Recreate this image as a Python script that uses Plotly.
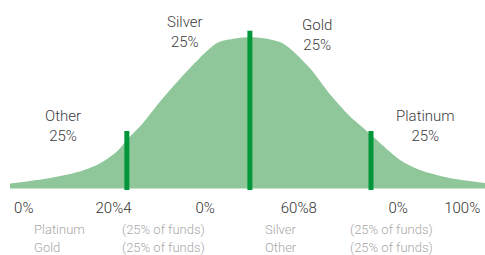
import plotly.graph_objects as go

# ---- data ----
curve_x = [0, 4.2, 8.4, 14.7, 18.9, 22.5, 24.6, 28.0, 31.6, 37.5, 43.6, 47.4, 50.5,
           53.7, 57.5, 63.2, 67.4, 71.6, 75.6, 77.9, 82.1, 86.3, 92.6, 100]
curve_y = [5, 7.5, 10.5, 17, 25, 37, 48.5, 65.5, 87, 118.5, 145.5, 150, 151.5,
           150, 145, 120, 94, 72, 55.5, 45.5, 28.5, 18.5, 10.5, 5.5]

divider_x = [24.6, 50.5, 76.0]
divider_top = [57.5, 157.8, 57.5]

group_labels = ["Other", "Silver", "Gold", "Platinum"]
group_shares = ["25%", "25%", "25%", "25%"]

tick_labels = ["0%", "20%4", "0%", "60%8", "0%", "100%"]
tick_pos = [2.9, 21.8, 41.1, 60.8, 81.7, 95.2]

legend_rows = [["Platinum", "(25% of funds)", "Silver", "(25% of funds)"],
               ["Gold", "(25% of funds)", "Other", "(25% of funds)"]]

FILL = "#8fc79a"
DARK = "#00963a"
FONT = "Roboto, 'DejaVu Sans Condensed', sans-serif"

W, H = 485, 255
ML, MR, MT, MB = 10, 0, 0, 65
PW = W - ML - MR
PH = H - MT - MB


def px_x(px):
    return (px - ML) / PW


def px_y(py):
    return (MT + PH - py) / PH


fig = go.Figure()
fig.add_trace(go.Scatter(x=curve_x, y=curve_y, mode="lines", fill="tozeroy",
                         fillcolor=FILL,
                         line=dict(color=FILL, width=0, shape="spline", smoothing=0.8),
                         hoverinfo="skip", showlegend=False))

lx, ly = [], []
for x, t in zip(divider_x, divider_top):
    lx += [x, x, None]
    ly += [-1.5, t, None]
fig.add_trace(go.Scatter(x=lx, y=ly, mode="lines", line=dict(color=DARK, width=5),
                         hoverinfo="skip", showlegend=False))

# top labels (pixel centres)
label_pos = [(63, 126), (184.5, 32.5), (317, 34.5), (425, 126)]
annotations = []
for (cx, cy), name, share in zip(label_pos, group_labels, group_shares):
    annotations.append(dict(x=px_x(cx), y=px_y(cy), xref="paper", yref="paper",
                            text=f"{name}<br>{share}", showarrow=False,
                            xanchor="center", yanchor="middle",
                            font=dict(family=FONT, size=15, color="#3c3c3c", weight=300)))

# bottom legend rows
col_left = [32, 120, 263, 348]
row_y = [229, 247]
for ry, row in zip(row_y, legend_rows):
    for lxp, txt in zip(col_left, row):
        annotations.append(dict(x=px_x(lxp), y=px_y(ry), xref="paper", yref="paper",
                                text=txt, showarrow=False, xanchor="left",
                                yanchor="middle",
                                font=dict(family=FONT, size=13, color="#a8a8a8", weight=300)))

fig.update_layout(
    width=W, height=H, margin=dict(l=ML, r=MR, t=MT, b=MB),
    paper_bgcolor="white", plot_bgcolor="white",
    xaxis=dict(range=[0, 100], showgrid=False, zeroline=False, showline=False,
               tickmode="array", tickvals=tick_pos, ticktext=tick_labels,
               ticks="outside", ticklen=4, tickcolor="rgba(0,0,0,0)",
               tickfont=dict(family=FONT, size=15, color="#333333", weight=300),
               fixedrange=True),
    yaxis=dict(range=[-1.5, 188.5], visible=False, fixedrange=True),
    annotations=annotations,
    showlegend=False,
)

fig.write_html("out.html", config={"displayModeBar": False},
               post_script="document.body.style.margin='0';document.body.style.overflow='hidden';")
